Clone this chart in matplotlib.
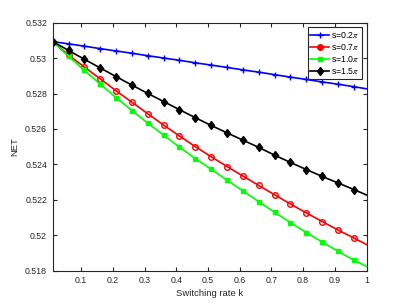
import matplotlib
matplotlib.use('Agg')
import matplotlib.pyplot as plt

k = [0.01, 0.06, 0.11, 0.16, 0.21, 0.26, 0.31, 0.36, 0.41, 0.46, 0.51,
     0.56, 0.61, 0.66, 0.71, 0.76, 0.81, 0.86, 0.91, 0.96, 1.00]

net_02 = [0.53094, 0.53081, 0.53068, 0.53054, 0.53041, 0.53028, 0.53014,
          0.53001, 0.52988, 0.52974, 0.52961, 0.52948, 0.52934, 0.52921,
          0.52907, 0.52893, 0.52880, 0.52866, 0.52853, 0.52839, 0.52827]
net_07 = [0.53094, 0.53018, 0.52950, 0.52883, 0.52816, 0.52751, 0.52686,
          0.52622, 0.52560, 0.52500, 0.52443, 0.52388, 0.52334, 0.52281,
          0.52228, 0.52176, 0.52126, 0.52077, 0.52029, 0.51984, 0.51947]
net_10 = [0.53094, 0.53011, 0.52931, 0.52853, 0.52777, 0.52704, 0.52633,
          0.52565, 0.52497, 0.52433, 0.52372, 0.52311, 0.52250, 0.52189,
          0.52129, 0.52071, 0.52015, 0.51961, 0.51909, 0.51859, 0.51823]
net_15 = [0.53094, 0.53044, 0.52994, 0.52945, 0.52896, 0.52848, 0.52801,
          0.52755, 0.52709, 0.52664, 0.52620, 0.52578, 0.52537, 0.52496,
          0.52452, 0.52411, 0.52371, 0.52332, 0.52295, 0.52258, 0.52227]

labels = ['s=0.2$\\pi$', 's=0.7$\\pi$', 's=1.0$\\pi$', 's=1.5$\\pi$']

xticks = [0.1, 0.2, 0.3, 0.4, 0.5, 0.6, 0.7, 0.8, 0.9, 1.0]
xticklabels = ['0.1', '0.2', '0.3', '0.4', '0.5', '0.6', '0.7', '0.8', '0.9', '1']
yticks = [0.518, 0.520, 0.522, 0.524, 0.526, 0.528, 0.530, 0.532]
yticklabels = ['0.518', '0.52', '0.522', '0.524', '0.526', '0.528', '0.53', '0.532']

plt.rcParams['font.family'] = ['Liberation Sans', 'DejaVu Sans']
plt.rcParams['mathtext.fontset'] = 'stix'
gray = '#262626'

fig = plt.figure(figsize=(4.05, 3.04), dpi=100)
ax = fig.add_axes([0.13, 0.11, 0.775, 0.815])

me = list(range(20))
ax.plot(k, net_02, '-', color='#0000ff', lw=1.2, marker='+', ms=5, mew=1.0,
        markevery=me, label=labels[0])
ax.plot(k, net_07, '-', color='#ff0000', lw=1.2, marker='o', ms=4, mew=1.0,
        mfc='none', markevery=me, label=labels[1])
ax.plot(k, net_10, '-', color='#00ff00', lw=1.2, marker='s', ms=3.5, mew=1.0,
        markevery=me, label=labels[2])
ax.plot(k, net_15, '-', color='#000000', lw=1.2, marker='d', ms=4.5, mew=1.0,
        markevery=me, label=labels[3])

ax.set_xlim(0.01, 1.0)
ax.set_ylim(0.518, 0.532)
ax.set_xticks(xticks)
ax.set_xticklabels(xticklabels)
ax.set_yticks(yticks)
ax.set_yticklabels(yticklabels)
ax.tick_params(direction='in', length=3, width=0.8, top=True, right=True,
               labelsize=6.3, colors=gray, pad=4)
for sp in ax.spines.values():
    sp.set_color(gray)
    sp.set_linewidth(0.8)

ax.set_xlabel('Switching rate k', fontsize=6.8, color=gray, labelpad=3)
ax.set_ylabel('NET', fontsize=6.8, color=gray, labelpad=4)

leg = ax.legend(loc='upper right', fontsize=6.3, handlelength=2.2,
                handletextpad=0.2, borderpad=0.3, labelspacing=0.25,
                borderaxespad=0.5, fancybox=False, framealpha=1)
leg.get_frame().set_edgecolor(gray)
leg.get_frame().set_linewidth(0.8)
for h in leg.legend_handles:
    h.set_markerfacecolor(h.get_color())

fig.savefig('out.png', dpi=100)
